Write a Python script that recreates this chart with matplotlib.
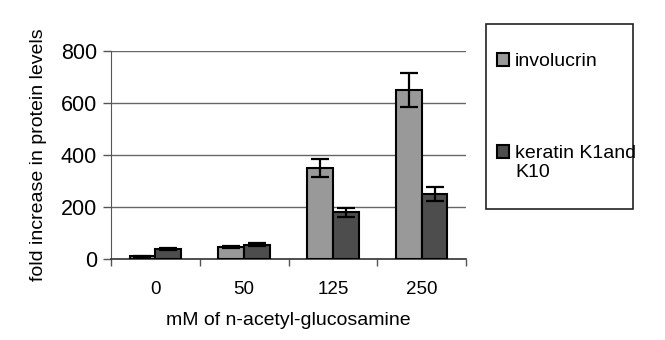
import numpy as np
import matplotlib.pyplot as plt
from matplotlib.patches import Rectangle

plt.rcParams['font.family'] = ['Liberation Sans', 'DejaVu Sans']

concentrations = ['0', '50', '125', '250']
involucrin = [10, 46, 350, 650]
involucrin_err = [3, 5, 35, 65]
keratin = [37, 55, 180, 250]
keratin_err = [4, 5, 18, 27]

fig = plt.figure(figsize=(6.65, 3.4), dpi=100)
ax = fig.add_axes([0.1669, 0.2382, 0.5339, 0.6118])

x = np.arange(len(concentrations))
w = 0.29
err_kw = dict(ecolor='black', elinewidth=1.6, capsize=6.5, capthick=1.6)
b1 = ax.bar(x - w / 2, involucrin, w, yerr=involucrin_err, color='#999999',
            edgecolor='black', linewidth=1.5, error_kw=err_kw, zorder=3,
            label='involucrin')
b2 = ax.bar(x + w / 2, keratin, w, yerr=keratin_err, color='#4d4d4d',
            edgecolor='black', linewidth=1.5, error_kw=err_kw, zorder=3,
            label='keratin K1and\nK10')

ax.set_xlim(-0.5, 3.5)
ax.set_ylim(0, 800)
ax.set_yticks([0, 200, 400, 600, 800])
ax.yaxis.grid(True, color='#666666', linewidth=1.0, zorder=0)
ax.set_axisbelow(True)

ax.set_xticks(x)
ax.set_xticklabels(concentrations, fontsize=13.5)
ax.set_xticks(np.arange(-0.5, 4.0, 1.0), minor=True)
ax.tick_params(axis='x', which='major', length=0, pad=16)
ax.tick_params(axis='x', which='minor', length=5, width=1, color='#555555')
ax.tick_params(axis='y', labelsize=15.5, length=6, width=1, color='#555555', pad=4)

for side in ['top', 'right']:
    ax.spines[side].set_visible(False)
ax.spines['left'].set_color('#555555')
ax.spines['bottom'].set_color('#333333')
ax.spines['bottom'].set_linewidth(1.2)

ax.set_xlabel('mM of n-acetyl-glucosamine', fontsize=14, labelpad=10)
ax.set_ylabel('fold increase in protein levels', fontsize=14, labelpad=10)

# legend frame drawn as a plain box on the figure
fig.patches.append(Rectangle((486 / 665, 1 - 209 / 340), 147 / 665, 185 / 340,
                             transform=fig.transFigure, fill=False,
                             edgecolor='#222222', linewidth=1.2))
leg = fig.legend(handles=[b1, b2], loc='upper left',
                 bbox_to_anchor=(487 / 665, 1 - 43 / 340), frameon=False,
                 fontsize=14, handlelength=0.65, handleheight=0.65,
                 handletextpad=0.3, labelspacing=3.85, borderpad=0)
# keep each swatch next to the first line of its label
for column in leg._legend_handle_box.get_children():
    for item in column.get_children():
        item.align = 'top'
for t in leg.get_texts():
    t.set_linespacing(1.15)

fig.savefig('out.png', dpi=100)
